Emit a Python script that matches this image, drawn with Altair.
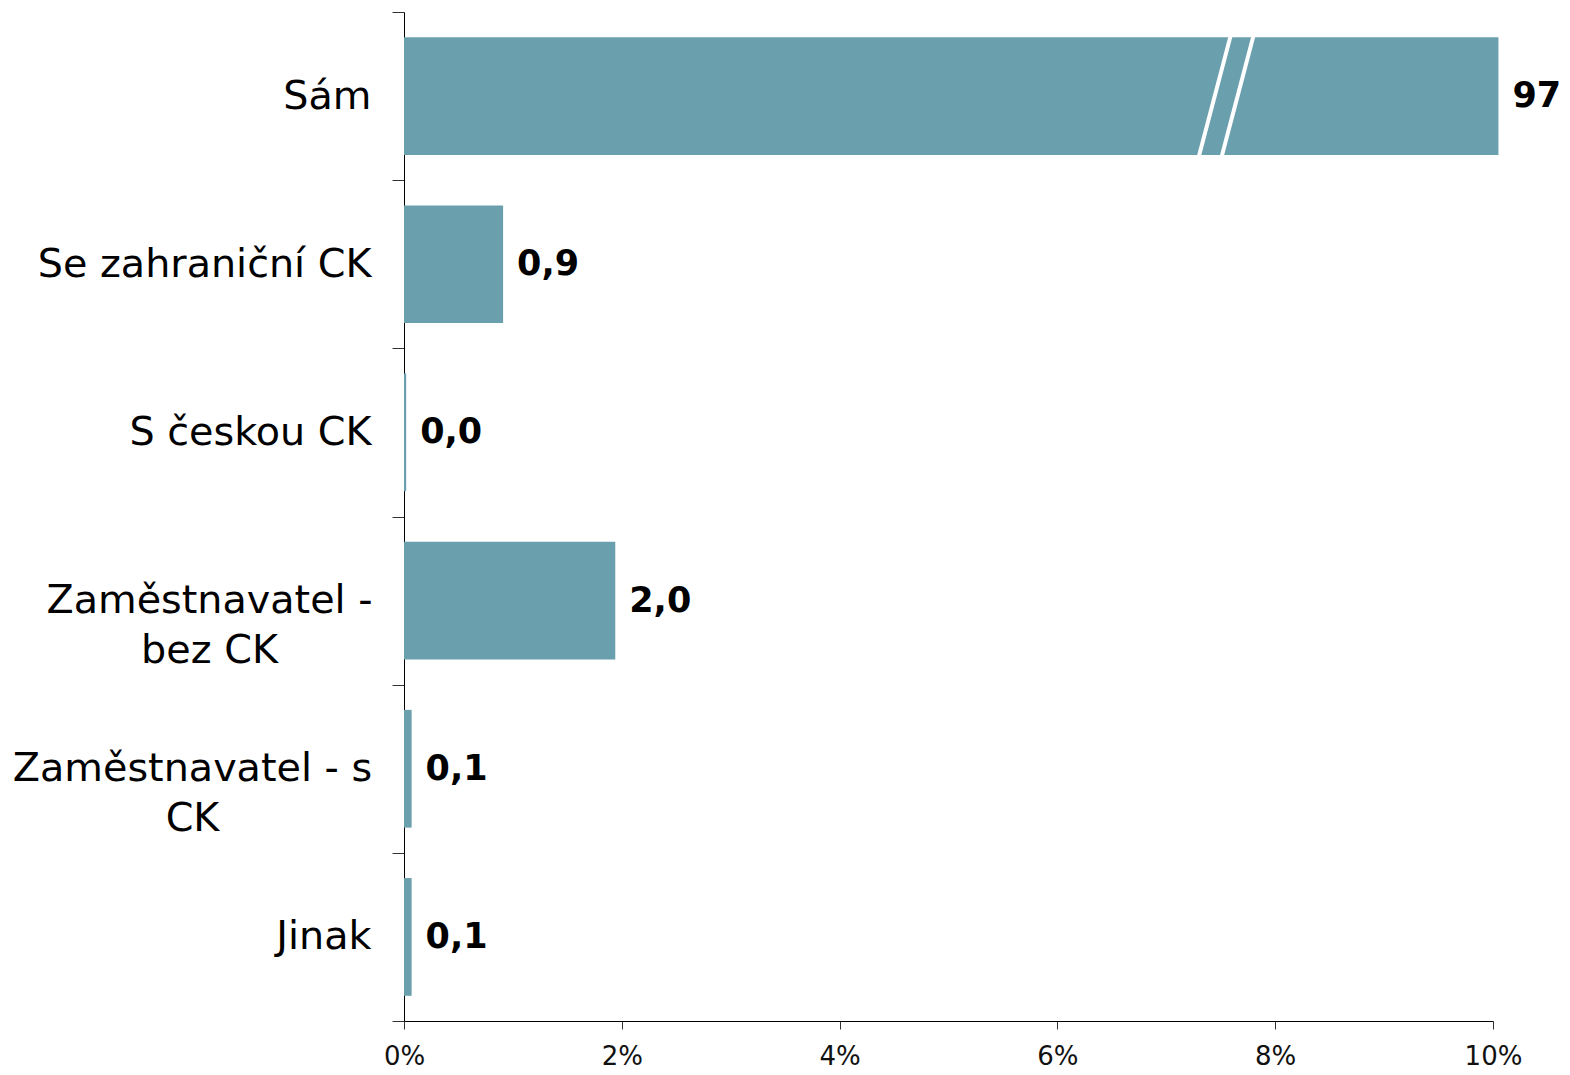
import altair as alt
import pandas as pd

# --- data ---
categories = ["Sám", "Se zahraniční CK", "S českou CK",
              "Zaměstnavatel - bez CK", "Zaměstnavatel - s CK", "Jinak"]
shares = [97, 0.91, 0.02, 1.94, 0.07, 0.07]          # % (bar lengths)
value_labels = ["97", "0,9", "0,0", "2,0", "0,1", "0,1"]
x_ticks = [0, 2, 4, 6, 8, 10]
axis_max = 10
overflow = 0.05                                       # broken bar sticks out a little
# break marks on the "Sám" bar (top x, bottom x) in %
break_top = [7.59, 7.80]
break_bottom = [7.30, 7.51]
wrapped = {"Zaměstnavatel - bez CK": ["Zaměstnavatel -", "bez CK"],
           "Zaměstnavatel - s CK": ["Zaměstnavatel - s", "CK"]}
centre_pad = {"Zaměstnavatel - bez CK": 183, "Zaměstnavatel - s CK": 200}

BAR = "#6A9FAD"
FONT = "DejaVu Sans"

df = pd.DataFrame({
    "cat": categories,
    "share": shares,
    "drawn": [min(v, axis_max + overflow) for v in shares],
    "label": value_labels,
})
brk = pd.DataFrame({
    "cat": [categories[0]] * len(break_top),
    "top": break_top,
    "bottom": break_bottom,
})

label_expr = "datum.label"
for k, lines in wrapped.items():
    arr = "[" + ", ".join("'" + s + "'" for s in lines) + "]"
    label_expr = f"datum.label == '{k}' ? {arr} : ({label_expr})"

align_cond = {"condition": {"test": " || ".join(f"datum.value == '{k}'" for k in wrapped),
                            "value": "center"}, "value": "right"}
pad_cond = {"condition": [{"test": f"datum.value == '{k}'", "value": v} for k, v in centre_pad.items()],
            "value": 21}

y_scale = alt.Scale(paddingInner=0, paddingOuter=0)
y_enc = alt.Y("cat:N", sort=categories, title=None, scale=y_scale,
              axis=alt.Axis(tickBand="extent", tickSize=12, tickColor="#333333",
                            domainColor="#000000", labelFont=FONT, labelFontSize=39.7,
                            labelColor="#000000", labelLimit=600,
                            labelExpr=label_expr, labelLineHeight=50,
                            labelAlign=align_cond, labelPadding=pad_cond,
                            labelBaseline="middle"))

x_scale = alt.Scale(domain=[0, axis_max], nice=False, zero=True)
x_axis = alt.Axis(values=x_ticks, labelExpr="datum.value + '%'", grid=False,
                  tickSize=8, tickColor="#333333", domainColor="#000000",
                  labelFont=FONT, labelFontSize=26, labelColor="#111111",
                  labelPadding=14, labelFlush=False, title=None)

bars = alt.Chart(df).mark_bar(color=BAR, clip=False, height={"band": 0.7}).encode(
    x=alt.X("drawn:Q", scale=x_scale, axis=x_axis),
    y=y_enc,
)

texts = alt.Chart(df).mark_text(align="left", baseline="middle", dx=14,
                                font=FONT, fontSize=35, fontWeight="bold",
                                color="#000000", clip=False).encode(
    x=alt.X("drawn:Q", scale=x_scale),
    y=alt.Y("cat:N", sort=categories),
    text="label:N",
)

breaks = alt.Chart(brk).mark_rule(color="white", strokeWidth=4,
                                  yOffset=-60, y2Offset=60).encode(
    x=alt.X("top:Q", scale=x_scale),
    x2="bottom:Q",
    y=alt.Y("cat:N", sort=categories),
    y2="cat:N",
)

chart = alt.layer(bars, breaks, texts).properties(
    width=1089, height=1009,
    autosize=alt.AutoSizeParams(type="none"),
    padding={"left": 396, "top": 4, "right": 69, "bottom": 51},
).configure_view(stroke=None)

chart.save("out.html", embed_options={"renderer": "svg", "actions": False})
